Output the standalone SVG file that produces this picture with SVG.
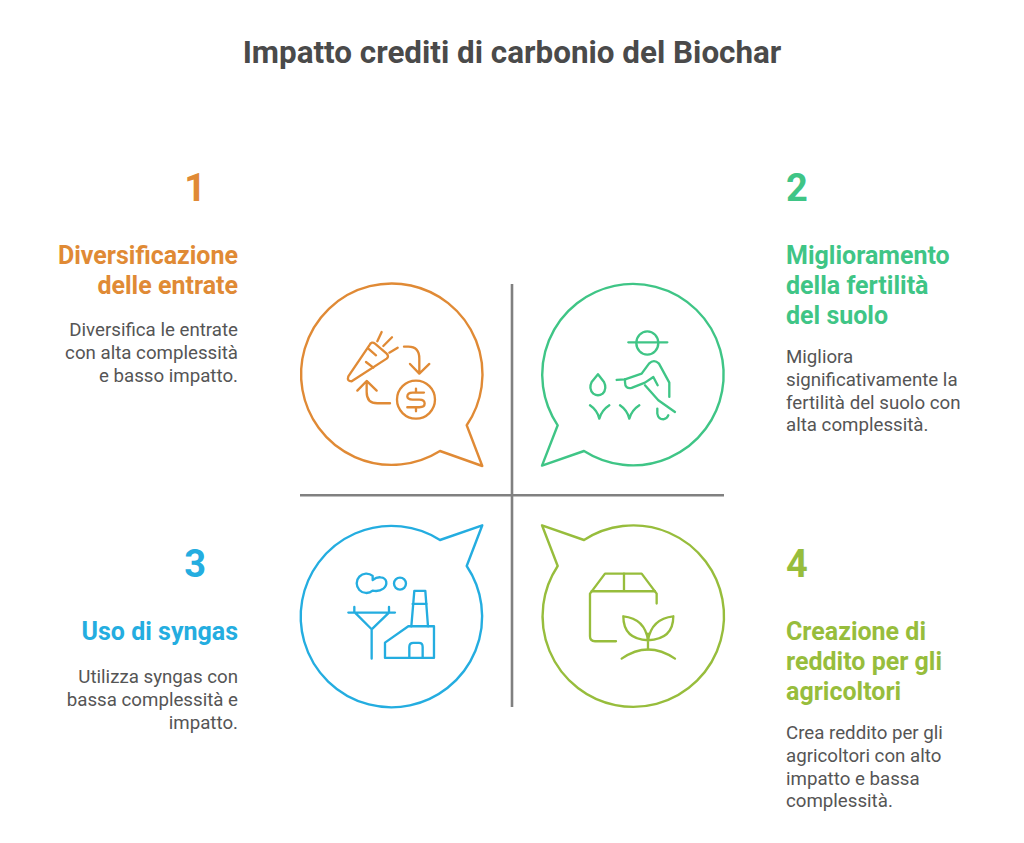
<svg xmlns="http://www.w3.org/2000/svg" width="1024" height="843" viewBox="0 0 1024 843">
<style>
text{font-family:Roboto,"Liberation Sans",sans-serif}
.title{font-size:31.400px;font-weight:700;fill:#4a4a4a;text-anchor:middle}
.num{font-size:38px;font-weight:700}
.head{font-size:25px;font-weight:700}
.body{font-size:18.700px;fill:#555}
.end{text-anchor:end}
.bub{fill:none;stroke-width:2.400;stroke-linejoin:round}
.ic{fill:none;stroke-width:7;stroke-linecap:round;stroke-linejoin:round}
.axis{stroke:#808080;stroke-width:2.600;fill:none}
.c1{fill:#E08A35}.c2{fill:#3FC586}.c3{fill:#24ADE0}.c4{fill:#97BD3C}
</style>
<rect width="1024" height="843" fill="#fff"/>
<text class="title" x="512" y="62.500">Impatto crediti di carbonio del Biochar</text>
<g id="connectors">
<path class="axis" d="M512 284V707"/>
<path class="axis" d="M300 495.300H724"/>
</g>
<g id="node-1">
<text class="num c1 end" x="206" y="200.500">1</text>
<text class="head c1 end" x="238" y="263.700">Diversificazione</text>
<text class="head c1 end" x="238" y="293.700">delle entrate</text>
<text class="body end" x="238" y="336.300">Diversifica le entrate</text>
<text class="body end" x="238" y="359">con alta complessità</text>
<text class="body end" x="238" y="381.700">e basso impatto.</text>
<path class="bub" stroke="#E08A35" d="M440 451A90.700 90.700 0 1 1 466.700 425.300L482.300 466Z"/>
<g class="ic" stroke="#E08A35" transform="translate(290 275.300) scale(.3333)">
<path d="M238 210L175 303Q170 318 185 318L290 250Q298 243 290 235L255 205Q245 197 238 210Z"/>
<path d="M235 220L258 240M228 260L250 277M262 198L275 170M280 212L306 186M298 232L323 217"/>
<path d="M342 214H355Q388 214 388 250V293M360 266L388 295L418 266"/>
<circle cx="378" cy="373" r="57"/>
<path d="M402 352H368Q352 352 352 364Q352 373 368 373H388Q404 373 404 385Q404 396 388 396H352M378 340V352M378 396V408"/>
<path d="M300 384H262Q230 384 230 350V318M202 346L230 317L260 346"/>
</g>
</g>
<g id="node-2">
<text class="num c2" x="786" y="200.500">2</text>
<text class="head c2" x="786" y="263.700">Miglioramento</text>
<text class="head c2" x="786" y="293.700">della fertilità</text>
<text class="head c2" x="786" y="323.700">del suolo</text>
<text class="body" x="786" y="363.300">Migliora</text>
<text class="body" x="786" y="386">significativamente la</text>
<text class="body" x="786" y="408.700">fertilità del suolo con</text>
<text class="body" x="786" y="431.400">alta complessità.</text>
<path class="bub" stroke="#3FC586" d="M584 451A90.700 90.700 0 1 0 557.700 425.300L542 465.600Z"/>
<g class="ic" stroke="#3FC586" transform="translate(510 275.300) scale(.3333)">
<ellipse cx="412" cy="203" rx="33" ry="35"/>
<path d="M355 201H472"/>
<path d="M320 314L345 312L395 295L417 265Q432 250 447 265L478 322V365"/>
<path d="M443 330L430 305L405 322L365 338Q345 342 345 320V312"/>
<path d="M405 330L445 375L495 410M442 400V415Q445 432 460 432Q472 430 475 420"/>
<path d="M264 297L245 320Q235 340 250 355Q264 365 278 355Q292 340 282 320Z"/>
<path d="M240 390Q262 405 268 430Q275 405 298 390M330 390Q352 405 358 430Q365 405 388 390"/>
</g>
</g>
<g id="node-3">
<text class="num c3 end" x="206" y="576.500">3</text>
<text class="head c3 end" x="238" y="640.300">Uso di syngas</text>
<text class="body end" x="238" y="683.300">Utilizza syngas con</text>
<text class="body end" x="238" y="706">bassa complessità e</text>
<text class="body end" x="238" y="728.700">impatto.</text>
<path class="bub" stroke="#24ADE0" d="M440 540A90.700 90.700 0 1 0 466.700 566L482.300 525.300Z"/>
<g class="ic" stroke="#24ADE0" transform="translate(290 495.300) scale(.3333)">
<path d="M248 242A29 29 0 1 0 248 286C258 288 272 286 280 280C294 268 292 248 272 246C264 245 256 248 248 254C248 250 248 246 248 242Z"/>
<circle cx="330" cy="265" r="18"/>
<path d="M175 352H315M193 335V352M297 335V352M195 352L245 402L297 352M245 402V490"/>
<path d="M285 488V442L355 393H432V488Z"/>
<path d="M364 393L373 287H406L414 393M368 326H410"/>
<path d="M358 488V455Q358 443 370 443H387Q398 443 398 455V488"/>
</g>
</g>
<g id="node-4">
<text class="num c4" x="786" y="576.500">4</text>
<text class="head c4" x="786" y="640.300">Creazione di</text>
<text class="head c4" x="786" y="670.300">reddito per gli</text>
<text class="head c4" x="786" y="700.300">agricoltori</text>
<text class="body" x="786" y="739.300">Crea reddito per gli</text>
<text class="body" x="786" y="762">agricoltori con alto</text>
<text class="body" x="786" y="784.700">impatto e bassa</text>
<text class="body" x="786" y="807.400">complessità.</text>
<path class="bub" stroke="#97BD3C" d="M584 540A90.700 90.700 0 1 1 557.700 566L542 525.300Z"/>
<g class="ic" stroke="#97BD3C" transform="translate(510 495.300) scale(.3333)">
<path d="M318 438H255Q240 438 240 423V295L285 235H395L440 295V325"/>
<path d="M245 288H435M342 235V288"/>
<path d="M414 415V462M340 363Q405 370 414 435Q340 432 340 363ZM490 363Q425 370 414 435Q490 432 490 363Z"/>
<path d="M335 490Q414 435 495 490"/>
</g>
</g>
</svg>
